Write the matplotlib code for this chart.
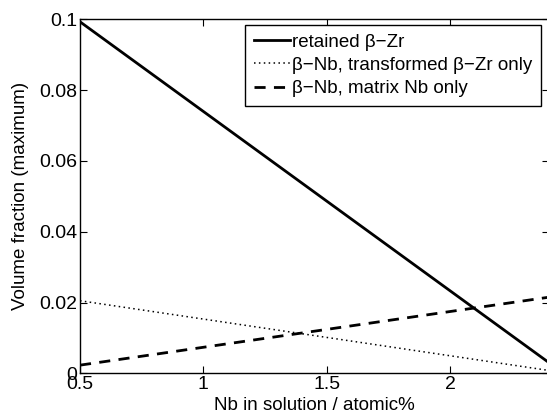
import matplotlib
matplotlib.use("Agg")
import matplotlib.pyplot as plt

# ======================================================
# DATA
# ======================================================
nb_solution = [0.5, 2.4]
retained_bzr = [0.0993, 0.0030]
bnb_transformed = [0.0205, 0.0008]
bnb_matrix = [0.0023, 0.0215]

x_ticks = [0.5, 1, 1.5, 2]
x_tick_labels = ["0.5", "1", "1.5", "2"]
y_ticks = [0, 0.02, 0.04, 0.06, 0.08, 0.1]
y_tick_labels = ["0", "0.02", "0.04", "0.06", "0.08", "0.1"]

series_labels = [
    "retained \u03b2\u2212Zr",
    "\u03b2\u2212Nb, transformed \u03b2\u2212Zr only",
    "\u03b2\u2212Nb, matrix Nb only",
]

# ======================================================
# PLOTTING
# ======================================================
plt.rcParams["font.family"] = ["Liberation Sans", "DejaVu Sans"]
plt.rcParams["font.size"] = 13.5

W, H = 547, 416
fig = plt.figure(figsize=(W / 100, H / 100), dpi=100)
ax = fig.add_axes([80 / W, 1 - 373.3 / H, (549 - 80) / W, (373.3 - 19.3) / H])

ax.plot(nb_solution, retained_bzr, color="black", lw=2, ls="-",
        label=series_labels[0])
ax.plot(nb_solution, bnb_transformed, color="black", lw=1.1,
        ls=(0, (1, 2.2)), label=series_labels[1])
ax.plot(nb_solution, bnb_matrix, color="black", lw=2, ls=(0, (4, 3)),
        label=series_labels[2])

ax.set_xlim(0.5, 2.4)
ax.set_ylim(0, 0.1)
ax.set_xticks(x_ticks)
ax.set_xticklabels(x_tick_labels)
ax.set_yticks(y_ticks)
ax.set_yticklabels(y_tick_labels)

ax.tick_params(direction="in", top=True, right=True, length=5, width=0.8,
               labelsize=14, pad=2)
for sp in ax.spines.values():
    sp.set_linewidth(1.0)

ax.set_xlabel("Nb in solution / atomic%", fontsize=13.5, labelpad=3)
ax.set_ylabel("Volume fraction (maximum)", fontsize=13.5, labelpad=7)

leg = ax.legend(loc="upper right", bbox_to_anchor=(541 / W, 1 - 25 / H),
                bbox_transform=fig.transFigure, borderaxespad=0,
                fancybox=False, edgecolor="black", framealpha=1,
                handlelength=1.95, handletextpad=0.1, borderpad=0.45,
                labelspacing=0.33, fontsize=13.5)
leg.get_frame().set_linewidth(1.0)

fig.savefig("out.png", dpi=100)
plt.close(fig)
